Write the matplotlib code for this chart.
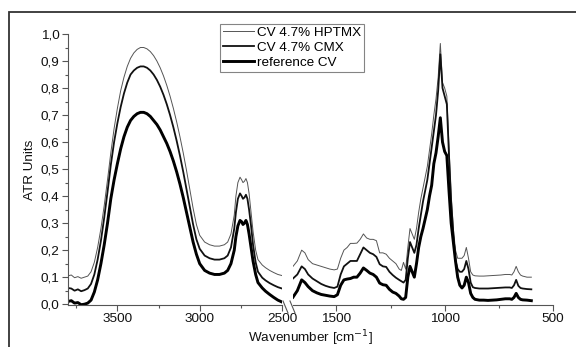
import matplotlib
matplotlib.use("Agg")
import matplotlib.pyplot as plt
from matplotlib.lines import Line2D
from matplotlib.patches import Rectangle
from matplotlib.ticker import FuncFormatter, MultipleLocator

plt.rcParams['font.family'] = ['Liberation Sans', 'DejaVu Sans']

# Wavenumbers, high-frequency part (cm-1)
wnHigh = [3800, 3780, 3760, 3740, 3720, 3700, 3680, 3660, 3640, 3620, 3600, 3580, 3560, 3540, 3520, 3500,
          3480, 3460, 3440, 3420, 3400, 3380, 3360, 3340, 3320, 3300, 3280, 3260, 3240, 3220, 3200, 3180,
          3160, 3140, 3120, 3100, 3080, 3060, 3040, 3020, 3000, 2970, 2940, 2910, 2880, 2850, 2830, 2810,
          2790, 2780, 2768, 2755, 2745, 2737, 2728, 2719, 2710, 2700, 2688, 2676, 2660, 2646, 2620, 2600,
          2575, 2550, 2525, 2500]

hptmxHigh = [0.105, 0.108, 0.098, 0.102, 0.096, 0.100, 0.104, 0.12, 0.155, 0.21, 0.28, 0.365, 0.46, 0.56, 0.65, 0.725,
             0.79, 0.84, 0.88, 0.91, 0.93, 0.943, 0.95, 0.95, 0.945, 0.935, 0.92, 0.90, 0.875, 0.845, 0.81, 0.77,
             0.725, 0.675, 0.62, 0.56, 0.495, 0.425, 0.355, 0.295, 0.255, 0.23, 0.22, 0.215, 0.215, 0.22, 0.23, 0.26,
             0.33, 0.40, 0.45, 0.47, 0.46, 0.45, 0.455, 0.465, 0.45, 0.41, 0.34, 0.27, 0.20, 0.165, 0.145, 0.135,
             0.125, 0.117, 0.110, 0.106]

cmxHigh = [0.060, 0.058, 0.050, 0.055, 0.048, 0.052, 0.058, 0.075, 0.11, 0.165, 0.235, 0.32, 0.415, 0.515, 0.60, 0.67,
           0.73, 0.78, 0.82, 0.85, 0.865, 0.875, 0.88, 0.88, 0.875, 0.865, 0.85, 0.83, 0.805, 0.775, 0.74, 0.70,
           0.655, 0.605, 0.55, 0.49, 0.425, 0.36, 0.295, 0.24, 0.205, 0.18, 0.17, 0.165, 0.165, 0.17, 0.18, 0.21,
           0.28, 0.34, 0.39, 0.41, 0.40, 0.39, 0.395, 0.405, 0.39, 0.35, 0.29, 0.22, 0.155, 0.12, 0.098, 0.088,
           0.078, 0.070, 0.063, 0.058]

refHigh = [0.010, 0.013, 0.004, 0.006, -0.002, 0.000, 0.004, 0.015, 0.045, 0.09, 0.15, 0.22, 0.30, 0.39, 0.46, 0.52,
           0.575, 0.62, 0.655, 0.68, 0.695, 0.705, 0.71, 0.71, 0.705, 0.695, 0.68, 0.665, 0.645, 0.62, 0.595, 0.565,
           0.53, 0.49, 0.445, 0.395, 0.34, 0.285, 0.23, 0.185, 0.15, 0.125, 0.115, 0.11, 0.11, 0.115, 0.125, 0.15,
           0.20, 0.25, 0.29, 0.31, 0.305, 0.295, 0.30, 0.31, 0.295, 0.26, 0.21, 0.16, 0.11, 0.08, 0.06, 0.048,
           0.036, 0.025, 0.015, 0.008]

# Wavenumbers, fingerprint part (cm-1)
wnLow = [1700, 1680, 1660, 1645, 1630, 1610, 1590, 1570, 1550, 1530, 1510, 1495, 1480, 1465, 1450, 1435,
         1420, 1405, 1390, 1375, 1360, 1345, 1330, 1315, 1300, 1285, 1270, 1255, 1240, 1225, 1210, 1200,
         1190, 1180, 1170, 1160, 1150, 1140, 1130, 1120, 1110, 1100, 1090, 1080, 1070, 1060, 1050, 1040,
         1030, 1020, 1010, 1000, 990, 980, 970, 960, 950, 940, 930, 920, 910, 900, 890, 880,
         870, 860, 840, 820, 800, 780, 760, 740, 720, 700, 690, 680, 670, 660, 650, 640,
         620, 600]

hptmxLow = [0.14, 0.16, 0.20, 0.19, 0.165, 0.15, 0.145, 0.14, 0.135, 0.13, 0.127, 0.13, 0.17, 0.20, 0.21, 0.225,
            0.225, 0.226, 0.24, 0.26, 0.245, 0.24, 0.24, 0.235, 0.19, 0.19, 0.185, 0.17, 0.16, 0.15, 0.13, 0.125,
            0.155, 0.13, 0.21, 0.28, 0.26, 0.24, 0.28, 0.34, 0.39, 0.43, 0.47, 0.51, 0.57, 0.63, 0.70, 0.76,
            0.84, 0.965, 0.82, 0.80, 0.77, 0.58, 0.40, 0.28, 0.20, 0.17, 0.17, 0.17, 0.18, 0.21, 0.17, 0.12,
            0.108, 0.105, 0.104, 0.104, 0.105, 0.106, 0.107, 0.108, 0.11, 0.11, 0.108, 0.12, 0.14, 0.12, 0.108, 0.104,
            0.10, 0.10]

cmxLow = [0.095, 0.11, 0.14, 0.13, 0.11, 0.095, 0.085, 0.075, 0.068, 0.063, 0.06, 0.065, 0.11, 0.14, 0.15, 0.16,
          0.16, 0.16, 0.185, 0.21, 0.20, 0.19, 0.185, 0.175, 0.148, 0.14, 0.138, 0.12, 0.108, 0.098, 0.09, 0.085,
          0.08, 0.09, 0.17, 0.23, 0.21, 0.19, 0.22, 0.28, 0.33, 0.38, 0.42, 0.46, 0.52, 0.58, 0.64, 0.70,
          0.79, 0.925, 0.80, 0.77, 0.74, 0.55, 0.38, 0.26, 0.16, 0.13, 0.12, 0.12, 0.13, 0.16, 0.13, 0.08,
          0.063, 0.06, 0.058, 0.058, 0.058, 0.059, 0.06, 0.061, 0.062, 0.062, 0.06, 0.07, 0.09, 0.068, 0.06, 0.058,
          0.056, 0.055]

refLow = [0.026, 0.05, 0.09, 0.08, 0.065, 0.05, 0.042, 0.036, 0.033, 0.030, 0.028, 0.035, 0.07, 0.09, 0.093, 0.095,
          0.10, 0.10, 0.115, 0.134, 0.125, 0.115, 0.11, 0.10, 0.078, 0.072, 0.07, 0.055, 0.045, 0.040, 0.030, 0.020,
          0.018, 0.025, 0.10, 0.14, 0.12, 0.10, 0.15, 0.21, 0.25, 0.28, 0.315, 0.35, 0.40, 0.44, 0.52, 0.56,
          0.62, 0.69, 0.60, 0.565, 0.55, 0.42, 0.30, 0.23, 0.16, 0.10, 0.07, 0.06, 0.07, 0.10, 0.08, 0.04,
          0.025, 0.018, 0.015, 0.015, 0.014, 0.015, 0.016, 0.018, 0.02, 0.02, 0.018, 0.025, 0.04, 0.025, 0.018, 0.016,
          0.015, 0.013]

seriesNames = ["CV 4.7% HPTMX", "CV 4.7% CMX", "reference CV"]
seriesHigh = [hptmxHigh, cmxHigh, refHigh]
seriesLow = [hptmxLow, cmxLow, refLow]
styles = [dict(color='#555555', lw=0.7), dict(color='#111111', lw=1.3), dict(color='#000000', lw=2.1)]

W, H = 576, 347
fig = plt.figure(figsize=(W / 100, H / 100), dpi=100)

# axes positions in pixels: left part 68->282, right part 293->553, y 34->305
bottom = 1 - 305 / H
height = (305 - 34) / H
axL = fig.add_axes([68 / W, bottom, (282 - 68) / W, height])
axR = fig.add_axes([293 / W, bottom, (553 - 293) / W, height])

axisColor = '#555555'
for ax, x, ys in ((axL, wnHigh, seriesHigh), (axR, wnLow, seriesLow)):
    for y, st in zip(ys, styles):
        ax.plot(x, y, **st)
    ax.set_ylim(-0.003, 1.0)
    ax.spines['top'].set_visible(False)
    ax.spines['right'].set_visible(False)
    ax.spines['bottom'].set_color(axisColor)
    ax.spines['left'].set_color(axisColor)
    ax.xaxis.set_major_locator(MultipleLocator(500))
    ax.xaxis.set_minor_locator(MultipleLocator(250))
    ax.tick_params(axis='both', which='major', direction='out', length=4, width=0.8,
                   color=axisColor, labelsize=9.7, pad=2, labelcolor='#111111')
    ax.tick_params(axis='both', which='minor', direction='out', length=2.5, width=0.8, color=axisColor)

axL.set_xlim(3800, 2500)
axR.set_xlim(1700, 500)

axL.yaxis.set_major_locator(MultipleLocator(0.1))
axL.yaxis.set_minor_locator(MultipleLocator(0.05))
axL.yaxis.set_major_formatter(FuncFormatter(lambda v, p: f"{v:.1f}".replace('.', ',')))

axR.spines['left'].set_visible(False)
axR.tick_params(axis='y', which='both', left=False, labelleft=False)

# axis break marks
for x0 in (283, 290):
    fig.add_artist(Line2D([x0 / W, (x0 + 5) / W], [1 - 301 / H, 1 - 313 / H],
                          transform=fig.transFigure, color=axisColor, lw=0.8))

fig.text(310 / W, 1 - 338 / H, "Wavenumber [cm$^{-1}$]", ha='center', va='center',
         fontsize=9.7, color='#111111')
fig.text(30 / W, 1 - 170 / H, "ATR Units", rotation=90, ha='center', va='center',
         fontsize=9.7, color='#111111')

handles = [Line2D([], [], **st) for st in styles]
leg = fig.legend(handles, seriesNames, loc='upper left', bbox_to_anchor=(220 / W, 1 - 24 / H),
                 fontsize=9.7, frameon=True, fancybox=False, handlelength=2.3, handletextpad=0.25,
                 labelspacing=0.18, borderpad=0.2, borderaxespad=0)
leg.get_frame().set_edgecolor('#666666')
leg.get_frame().set_linewidth(0.8)

# outer frame of the figure
fig.add_artist(Rectangle((9 / W, -0.1), 1.2, 1.1 - 12 / H, transform=fig.transFigure,
                         fill=False, ec='#333333', lw=1.3, clip_on=False))

fig.savefig("out.png", dpi=100)
